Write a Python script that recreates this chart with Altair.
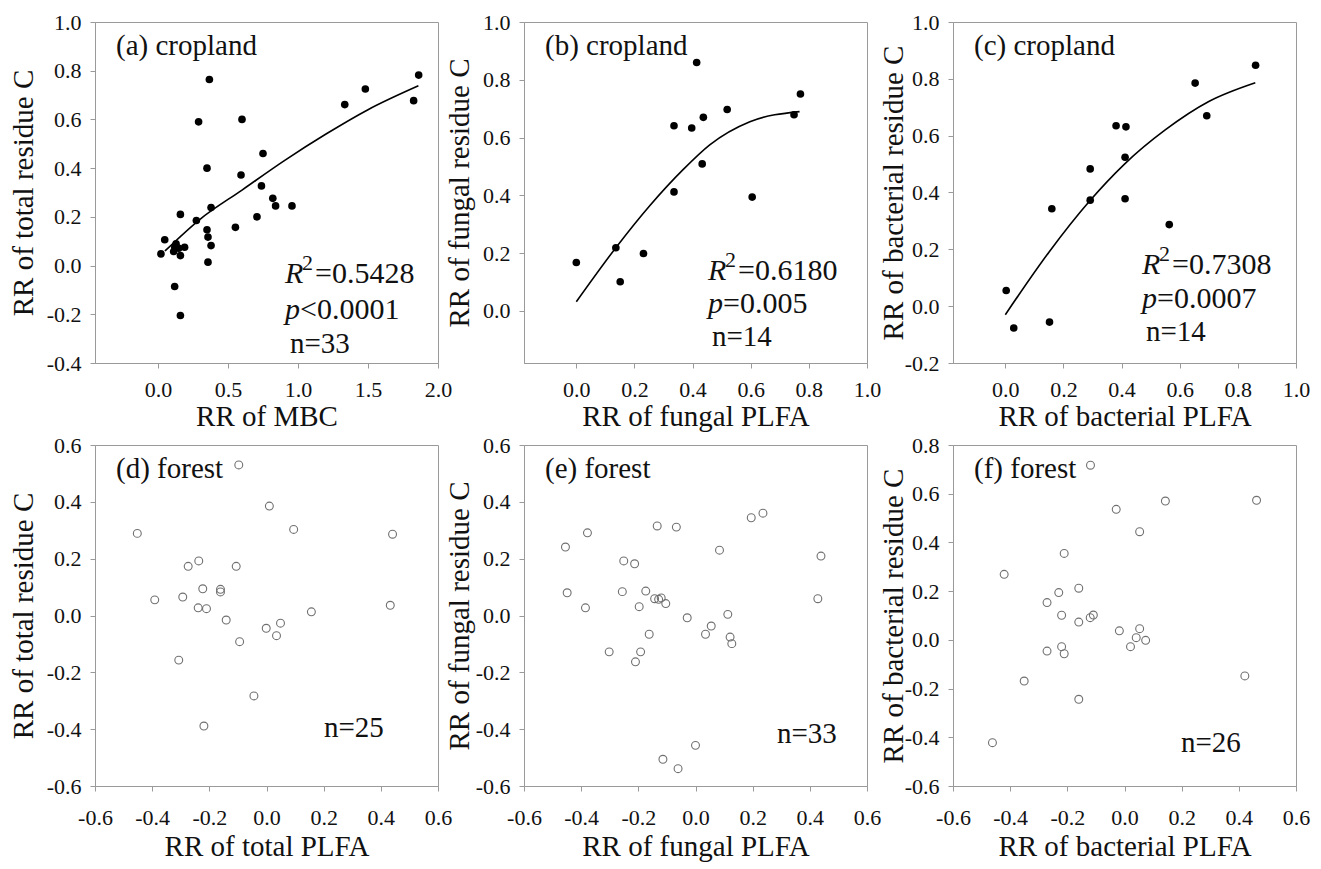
import altair as alt
import pandas as pd

FONT = "Liberation Serif"
MINUS = "\u2212"

# ---------------- data ----------------
# (a) cropland: RR of MBC vs RR of total residue C
a_x = [0.367, 0.29, 0.60, 0.75, 0.35, 0.593, 0.739, 0.82, 0.84, 0.957, 0.379,
       0.16, 0.274, 0.707, 0.553, 0.35, 0.357, 0.379, 0.048, 0.021, 0.129,
       0.112, 0.148, 0.16, 0.19, 0.357, 0.119, 0.16, 1.334, 1.481, 1.862,
       1.826, 0.12]
a_y = [0.764, 0.59, 0.60, 0.46, 0.40, 0.372, 0.327, 0.276, 0.245, 0.245, 0.238,
       0.21, 0.185, 0.20, 0.157, 0.147, 0.117, 0.082, 0.106, 0.048, 0.089,
       0.058, 0.071, 0.041, 0.075, 0.014, -0.086, -0.205, 0.661, 0.725, 0.782,
       0.677, 0.075]
a_fit_x = [0.05, 0.3, 0.6, 0.9, 1.2, 1.5, 1.86]
a_fit_y = [0.06, 0.19, 0.31, 0.43, 0.54, 0.64, 0.738]

# (b) cropland: RR of fungal PLFA vs RR of fungal residue C
b_x = [0.0, 0.136, 0.151, 0.231, 0.336, 0.336, 0.397, 0.437, 0.414, 0.433,
       0.519, 0.605, 0.749, 0.771]
b_y = [0.168, 0.219, 0.101, 0.199, 0.412, 0.641, 0.633, 0.670, 0.860, 0.509,
       0.697, 0.394, 0.679, 0.751]
b_fit_x = [0.0, 0.136, 0.254, 0.368, 0.459, 0.597, 0.768]
b_fit_y = [0.032, 0.219, 0.366, 0.49, 0.575, 0.655, 0.69]

# (c) cropland: RR of bacterial PLFA vs RR of bacterial residue C
c_x = [0.861, 0.653, 0.693, 0.381, 0.415, 0.412, 0.292, 0.292, 0.412, 0.160,
       0.564, 0.003, 0.152, 0.029]
c_y = [0.848, 0.785, 0.670, 0.635, 0.631, 0.524, 0.483, 0.373, 0.378, 0.343,
       0.287, 0.055, -0.056, -0.077]
c_fit_x = [0.0, 0.15, 0.29, 0.41, 0.55, 0.7, 0.86]
c_fit_y = [-0.03, 0.19, 0.37, 0.50, 0.62, 0.72, 0.786]

# (d) forest: RR of total PLFA vs RR of total residue C
d_x = [-0.097, 0.010, 0.095, -0.452, 0.441, -0.237, -0.274, -0.106, -0.223,
       -0.161, -0.161, -0.391, -0.293, -0.239, -0.210, 0.433, 0.157, -0.141,
       -0.001, 0.049, 0.035, -0.094, -0.307, -0.044, -0.219]
d_y = [0.530, 0.385, 0.303, 0.289, 0.286, 0.192, 0.173, 0.173, 0.094, 0.092,
       0.083, 0.055, 0.065, 0.027, 0.024, 0.036, 0.013, -0.016, -0.045, -0.027,
       -0.071, -0.092, -0.157, -0.283, -0.389]

# (e) forest: RR of fungal PLFA vs RR of fungal residue C
e_x = [-0.378, -0.455, -0.134, -0.067, 0.195, 0.236, 0.084, 0.439, -0.251,
       -0.213, -0.449, -0.256, -0.174, -0.143, -0.129, -0.104, -0.385, -0.197,
       0.428, 0.113, -0.029, 0.055, 0.035, -0.162, 0.121, 0.127, -0.302,
       -0.192, -0.210, 0.0, -0.114, -0.061, -0.12]
e_y = [0.291, 0.241, 0.315, 0.311, 0.344, 0.360, 0.230, 0.209, 0.192, 0.182,
       0.080, 0.084, 0.086, 0.059, 0.057, 0.042, 0.027, 0.031, 0.059, 0.004,
       -0.008, -0.037, -0.066, -0.066, -0.076, -0.099, -0.128, -0.128, -0.163,
       -0.457, -0.506, -0.539, 0.062]

# (f) forest: RR of bacterial PLFA vs RR of bacterial residue C
f_x = [-0.119, -0.029, 0.143, 0.462, 0.053, -0.211, -0.421, -0.160, -0.230,
       -0.271, -0.220, -0.109, -0.120, -0.160, -0.018, 0.053, 0.041, 0.074,
       0.021, -0.271, -0.220, -0.211, -0.351, 0.421, -0.160, -0.462]
f_y = [0.717, 0.536, 0.570, 0.573, 0.444, 0.355, 0.269, 0.212, 0.194, 0.153,
       0.101, 0.102, 0.091, 0.073, 0.037, 0.046, 0.009, -0.002, -0.028, -0.046,
       -0.028, -0.057, -0.169, -0.148, -0.244, -0.422]

ticks_a_x = [0.0, 0.5, 1.0, 1.5, 2.0]
ticks_a_y = [-0.4, -0.2, 0.0, 0.2, 0.4, 0.6, 0.8, 1.0]
ticks_b_x = [0.0, 0.2, 0.4, 0.6, 0.8, 1.0]
ticks_b_y = [0.0, 0.2, 0.4, 0.6, 0.8, 1.0]
ticks_c_y = [-0.2, 0.0, 0.2, 0.4, 0.6, 0.8, 1.0]
ticks_forest_x = [-0.6, -0.4, -0.2, 0.0, 0.2, 0.4, 0.6]
ticks_de_y = [-0.6, -0.4, -0.2, 0.0, 0.2, 0.4, 0.6]
ticks_f_y = [-0.6, -0.4, -0.2, 0.0, 0.2, 0.4, 0.6, 0.8]

# ---------------- styling ----------------
W, H = 343, 341
GRAY = "#9a9a9a"
INK = "#111111"
LABEL_EXPR = "replace(format(datum.value, '.1f'), '" + MINUS + "', '-')"


def x_axis(values, title, lpad, tpad):
    return alt.Axis(values=values, title=title, labelExpr=LABEL_EXPR, grid=False,
                    tickSize=5, tickColor=GRAY, domainColor=GRAY,
                    labelPadding=lpad, labelFlush=False, labelOverlap=False,
                    labelFont=FONT, labelFontSize=22, labelColor=INK,
                    titleFont=FONT, titleFontSize=29, titleFontWeight="normal",
                    titleColor=INK, titlePadding=tpad)


def y_axis(values, title, tpad):
    return alt.Axis(values=values, title=title, labelExpr=LABEL_EXPR, grid=False,
                    tickSize=5, tickColor=GRAY, domainColor=GRAY,
                    labelPadding=9, labelFlush=False, labelOverlap=False,
                    minExtent=50, maxExtent=50,
                    labelFont=FONT, labelFontSize=22, labelColor=INK,
                    titleFont=FONT, titleFontSize=29, titleFontWeight="normal",
                    titleColor=INK, titlePadding=tpad)


def text_layer(s, px, py, size=29, style="normal"):
    return alt.Chart(pd.DataFrame({"t": [s]})).mark_text(
        align="left", baseline="alphabetic", font=FONT, fontSize=size,
        fontStyle=style, color=INK
    ).encode(x=alt.value(px), y=alt.value(py), text="t:N")


def panel(x, y, xdom, ydom, xt, yt, xtitle, ytitle, tpad, label, filled,
          fit_x=None, fit_y=None, stats=None, n_text="", n_pos=(0, 0),
          xpads=(16, 4)):
    df = pd.DataFrame({"x": x, "y": y})
    xenc = alt.X("x:Q", scale=alt.Scale(domain=xdom, nice=False, zero=False),
                 axis=x_axis(xt, xtitle, xpads[0], xpads[1]))
    yenc = alt.Y("y:Q", scale=alt.Scale(domain=ydom, nice=False, zero=False),
                 axis=y_axis(yt, ytitle, tpad))
    if filled:
        pts = alt.Chart(df).mark_point(shape="circle", filled=True, size=58,
                                       color="black", opacity=1)
    else:
        pts = alt.Chart(df).mark_point(shape="circle", filled=False, size=62,
                                       color="#707070", strokeWidth=1.1,
                                       opacity=1)
    layers = [pts.encode(x=xenc, y=yenc)]
    if fit_x is not None:
        fdf = pd.DataFrame({"x": fit_x, "y": fit_y})
        layers.append(alt.Chart(fdf).mark_line(color="black", strokeWidth=1.6,
                                               interpolate="monotone")
                      .encode(x=xenc, y=yenc))
    layers.append(text_layer(label, 21, 33))
    if stats is not None:
        r2, pop, pval, x0, b1, b2 = stats
        layers.append(text_layer("R", x0, b1, 30, "italic"))
        layers.append(text_layer("2", x0 + 17, b1 - 13, 22))
        layers.append(text_layer("=" + r2, x0 + 30, b1, 30))
        layers.append(text_layer("p", x0, b2, 30, "italic"))
        layers.append(text_layer(pop + pval, x0 + 15, b2, 30))
    layers.append(text_layer(n_text, n_pos[0], n_pos[1]))
    return alt.layer(*layers).properties(width=W, height=H)


TOP = (11, 2)
pa = panel(a_x, a_y, [-0.45, 2.0], [-0.4, 1.0], ticks_a_x, ticks_a_y,
           "RR of MBC", "RR of total residue C", 7, "(a) cropland", True,
           a_fit_x, a_fit_y, ("0.5428", "<", "0.0001", 190, 261, 297),
           "n=33", (195, 331), xpads=TOP)
pb = panel(b_x, b_y, [-0.18, 1.0], [-0.18, 1.0], ticks_b_x, ticks_b_y,
           "RR of fungal PLFA", "RR of fungal residue C", 0, "(b) cropland", True,
           b_fit_x, b_fit_y, ("0.6180", "=", "0.005", 184, 258, 291),
           "n=14", (188, 324), xpads=TOP)
pc = panel(c_x, c_y, [-0.18, 1.0], [-0.2, 1.0], ticks_b_x, ticks_c_y,
           "RR of bacterial PLFA", "RR of bacterial residue C", -5,
           "(c) cropland", True,
           c_fit_x, c_fit_y, ("0.7308", "=", "0.0007", 189, 252, 286),
           "n=14", (193, 319), xpads=TOP)
pd_ = panel(d_x, d_y, [-0.6, 0.6], [-0.6, 0.6], ticks_forest_x, ticks_de_y,
            "RR of total PLFA", "RR of total residue C", 7, "(d) forest", False,
            n_text="n=25", n_pos=(229, 292))
pe = panel(e_x, e_y, [-0.6, 0.6], [-0.6, 0.6], ticks_forest_x, ticks_de_y,
           "RR of fungal PLFA", "RR of fungal residue C", 0, "(e) forest", False,
           n_text="n=33", n_pos=(253, 298))
pf = panel(f_x, f_y, [-0.6, 0.6], [-0.6, 0.8], ticks_forest_x, ticks_f_y,
           "RR of bacterial PLFA", "RR of bacterial residue C", -5, "(f) forest",
           False, n_text="n=26", n_pos=(228, 307))

chart = alt.concat(pa, pb, pc, pd_, pe, pf, columns=3,
                   spacing={"row": 82, "column": 86}, bounds="flush").properties(
    padding={"left": 0, "top": 2, "right": 0, "bottom": 0}
).configure_view(stroke=GRAY, strokeWidth=1)

chart.save("out.html", embed_options={"renderer": "svg", "actions": False})
